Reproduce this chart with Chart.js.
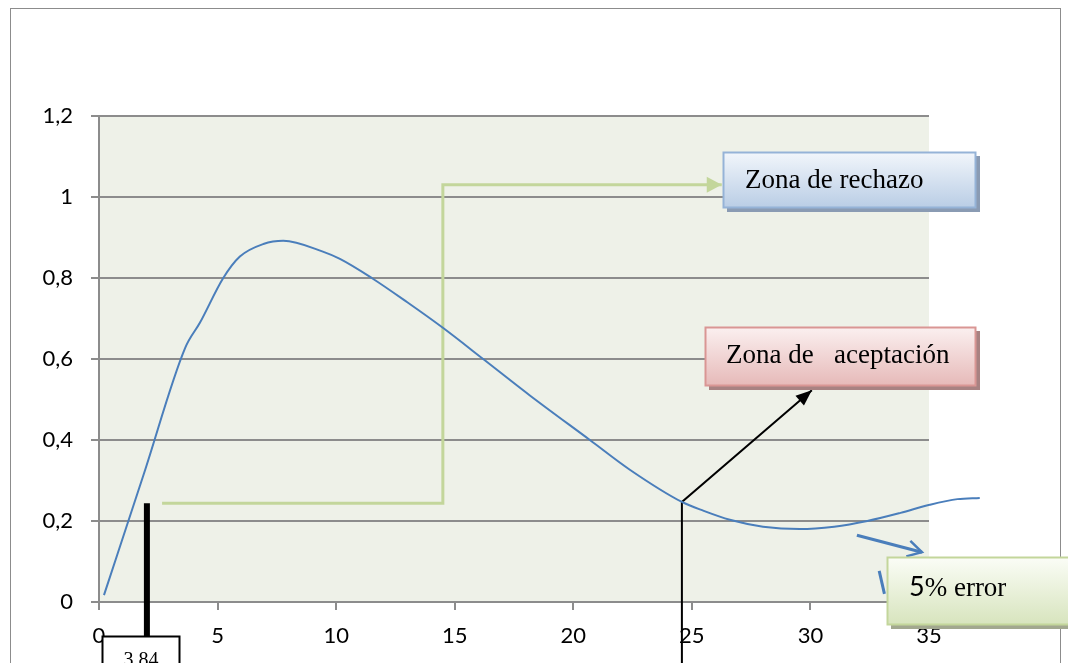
<!DOCTYPE html>
<html>
<head>
<meta charset="utf-8">
<script src="https://cdn.jsdelivr.net/npm/chart.js@4.4.1/dist/chart.umd.min.js"></script>
<style>
  html, body { margin: 0; padding: 0; background: #fff; }
  #wrap { width: 1068px; height: 663px; }
</style>
</head>
<body>
<div id="wrap"><canvas id="grafico" width="1068" height="663"></canvas></div>
<script>
// datos de la curva
const xVals = [0.21, 1.9, 3.63, 4.26, 5.24, 5.94, 6.93, 7.77, 9.44, 10.16, 11.5, 13.0, 14.5, 16.2, 18.17, 20.7, 22.4, 24.58, 25.5, 26.6, 28.0, 29.55, 31.0, 32.4, 33.8, 35.03, 36.2, 37.14];
const yVals = [0.017, 0.318, 0.627, 0.69, 0.8, 0.853, 0.884, 0.892, 0.865, 0.847, 0.8, 0.74, 0.677, 0.6, 0.51, 0.4, 0.326, 0.247, 0.225, 0.203, 0.186, 0.18, 0.186, 0.2, 0.22, 0.24, 0.254, 0.257];
const xTicks = [0, 5, 10, 15, 20, 25, 30, 35];
const yTicks = [0, 0.2, 0.4, 0.6, 0.8, 1, 1.2];

// anotaciones en unidades del grafico
const notas = {
  verde: [[2.66, 0.244], [14.5, 0.244], [14.5, 1.03], [26.26, 1.03]],
  grueso: [[2.02, 0.244], [2.02, -0.084]],
  fino: [[24.58, -0.2], [24.58, 0.247], [30.06, 0.523]],
  azul1: [[31.96, 0.165], [34.7, 0.123]],
  azul2: [[32.9, 0.077], [33.12, 0.02]],
  cajaValor: { x1: 0.13, x2: 3.42, y1: -0.084, y2: -0.25, texto: '3.84' },
  rechazo: { x1: 26.3, x2: 37.0, y1: 1.111, y2: 0.973 },
  aceptacion: { x1: 25.55, x2: 36.97, y1: 0.679, y2: 0.533 },
  error: { x1: 33.22, x2: 41.5, y1: 0.111, y2: -0.057 }
};

const puntos = xVals.map((x, i) => ({ x: x, y: yVals[i] }));

function linea(ctx, chart, pts, color, ancho) {
  const sx = chart.scales.x, sy = chart.scales.y;
  ctx.save();
  ctx.strokeStyle = color;
  ctx.lineWidth = ancho;
  ctx.lineJoin = 'miter';
  ctx.beginPath();
  pts.forEach((p, i) => {
    const X = sx.getPixelForValue(p[0]), Y = sy.getPixelForValue(p[1]);
    if (i === 0) ctx.moveTo(X, Y); else ctx.lineTo(X, Y);
  });
  ctx.stroke();
  ctx.restore();
}

// punta de flecha al final del trazo
function punta(ctx, chart, pts, color, largo, ancho, abierta) {
  const sx = chart.scales.x, sy = chart.scales.y;
  const a = pts[pts.length - 2], b = pts[pts.length - 1];
  const x0 = sx.getPixelForValue(a[0]), y0 = sy.getPixelForValue(a[1]);
  const x1 = sx.getPixelForValue(b[0]), y1 = sy.getPixelForValue(b[1]);
  const ang = Math.atan2(y1 - y0, x1 - x0);
  ctx.save();
  ctx.translate(x1, y1);
  ctx.rotate(ang);
  ctx.beginPath();
  ctx.moveTo(-largo, -ancho / 2);
  ctx.lineTo(0, 0);
  ctx.lineTo(-largo, ancho / 2);
  if (abierta) {
    ctx.strokeStyle = color;
    ctx.lineWidth = 2.5;
    ctx.stroke();
  } else {
    ctx.closePath();
    ctx.fillStyle = color;
    ctx.fill();
  }
  ctx.restore();
}

function caja(ctx, chart, c, arriba, abajo, borde, sombra) {
  const sx = chart.scales.x, sy = chart.scales.y;
  const l = Math.round(sx.getPixelForValue(c.x1)), r = Math.round(sx.getPixelForValue(c.x2));
  const t = Math.round(sy.getPixelForValue(c.y1)), b = Math.round(sy.getPixelForValue(c.y2));
  ctx.save();
  if (sombra) {
    ctx.fillStyle = sombra;
    ctx.fillRect(l + 4, t + 4, r - l, b - t);
  }
  const g = ctx.createLinearGradient(0, t, 0, b);
  g.addColorStop(0, arriba);
  g.addColorStop(1, abajo);
  ctx.fillStyle = g;
  ctx.fillRect(l, t, r - l, b - t);
  ctx.strokeStyle = borde;
  ctx.lineWidth = 2;
  ctx.strokeRect(l + 0.5, t + 0.5, r - l - 1, b - t - 1);
  ctx.restore();
  return { l, r, t, b };
}

const dibujos = {
  id: 'dibujos',
  beforeDraw(chart) {
    const ctx = chart.ctx, a = chart.chartArea;
    ctx.save();
    ctx.fillStyle = '#ffffff';
    ctx.fillRect(0, 0, chart.width, chart.height);
    ctx.fillStyle = '#eef1e8';
    ctx.fillRect(a.left, a.top, a.right - a.left, a.bottom - a.top);
    ctx.strokeStyle = '#8c8c8c';
    ctx.lineWidth = 1;
    ctx.strokeRect(10.5, 8.5, 1050, 700);
    ctx.restore();
  },
  beforeDatasetsDraw(chart) {
    const ctx = chart.ctx;
    linea(ctx, chart, notas.verde, '#c3d69b', 3);
    punta(ctx, chart, notas.verde, '#c3d69b', 15, 16, false);
    linea(ctx, chart, notas.grueso, '#000000', 6);
    linea(ctx, chart, notas.fino, '#000000', 2);
    punta(ctx, chart, notas.fino, '#000000', 16, 13, false);
  },
  afterDraw(chart) {
    const ctx = chart.ctx;
    linea(ctx, chart, notas.azul1, '#4a7ebb', 3);
    punta(ctx, chart, notas.azul1, '#4a7ebb', 14, 16, true);
    linea(ctx, chart, notas.azul2, '#4a7ebb', 3);

    ctx.save();
    ctx.textBaseline = 'alphabetic';
    ctx.fillStyle = '#000';

    let k = caja(ctx, chart, notas.cajaValor, '#ffffff', '#ffffff', '#000000', null);
    ctx.font = '20px "Liberation Serif"';
    ctx.textAlign = 'center';
    ctx.fillText(notas.cajaValor.texto, (k.l + k.r) / 2, k.t + 30);

    ctx.textAlign = 'left';
    ctx.font = '27px "Liberation Serif"';
    k = caja(ctx, chart, notas.rechazo, '#f2f6fb', '#b9cde5', '#95b3d7', '#8a9bb3');
    ctx.fillStyle = '#000';
    ctx.fillText('Zona de rechazo', k.l + 22, k.t + 36);

    k = caja(ctx, chart, notas.aceptacion, '#fbf0f0', '#e6b9b8', '#d99694', '#a88282');
    ctx.fillStyle = '#000';
    ctx.fillText('Zona de   aceptación', k.l + 21, k.t + 36);

    k = caja(ctx, chart, notas.error, '#fbfdf7', '#d7e4bd', '#c3d69b', '#a2a88f');
    ctx.fillStyle = '#000';
    ctx.font = '27px Lato';
    ctx.fillText('5', k.l + 22, k.t + 39);
    const w5 = ctx.measureText('5').width;
    ctx.font = '27px "Liberation Serif"';
    ctx.fillText('% error', k.l + 22 + w5, k.t + 39);
    ctx.restore();
  }
};

new Chart(document.getElementById('grafico').getContext('2d'), {
  type: 'line',
  data: {
    datasets: [{
      data: puntos,
      borderColor: '#4a7ebb',
      borderWidth: 2,
      pointRadius: 0,
      cubicInterpolationMode: 'monotone',
      fill: false,
      clip: false
    }]
  },
  options: {
    responsive: false,
    animation: false,
    events: [],
    layout: { padding: { left: 0, top: 116, right: 139, bottom: 0 } },
    plugins: { legend: { display: false }, tooltip: { enabled: false } },
    scales: {
      x: {
        type: 'linear',
        // limites puestos aqui para que la curva siga dibujandose despues de 35
        afterDataLimits: s => { s.min = 0; s.max = 35; },
        afterFit: s => { s.height = 61; },
        afterBuildTicks: s => { s.ticks = xTicks.map(v => ({ value: v })); },
        grid: { drawOnChartArea: false, color: '#8c8c8c', lineWidth: 2, tickLength: 8 },
        border: { color: '#8c8c8c', width: 2 },
        ticks: { color: '#000', font: { family: 'Lato', size: 22 }, padding: 13, maxRotation: 0 }
      },
      y: {
        min: 0,
        max: 1.2,
        afterFit: s => { s.width = 99; },
        afterBuildTicks: s => { s.ticks = yTicks.map(v => ({ value: v })); },
        grid: { color: '#8c8c8c', lineWidth: 2, tickLength: 8 },
        border: { color: '#8c8c8c', width: 2 },
        ticks: {
          color: '#000',
          font: { family: 'Lato', size: 22 },
          padding: 18,
          callback: v => String(Math.round(v * 10) / 10).replace('.', ',')
        }
      }
    }
  },
  plugins: [dibujos]
});
</script>
</body>
</html>
